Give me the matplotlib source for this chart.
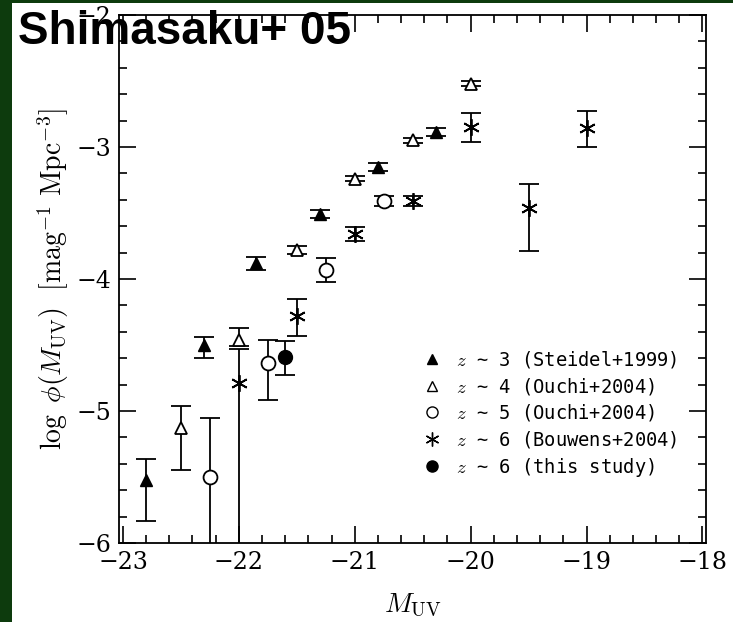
import matplotlib
matplotlib.use("Agg")
import matplotlib.pyplot as plt
from matplotlib.lines import Line2D

plt.rcParams["mathtext.fontset"] = "cm"

# z~3 Steidel+1999 (filled triangles)
z3_m = [-22.8, -22.3, -21.85, -21.3, -20.8, -20.3]
z3_phi = [-5.52, -4.50, -3.88, -3.51, -3.15, -2.89]
z3_lo = [0.31, 0.10, 0.05, 0.03, 0.03, 0.03]
z3_hi = [0.16, 0.06, 0.05, 0.03, 0.03, 0.03]

# z~4 Ouchi+2004 (open triangles)
z4_m = [-22.5, -22.0, -21.5, -21.0, -20.5, -20.0]
z4_phi = [-5.13, -4.46, -3.78, -3.24, -2.95, -2.52]
z4_lo = [0.32, 0.05, 0.03, 0.02, 0.02, 0.02]
z4_hi = [0.17, 0.09, 0.03, 0.02, 0.02, 0.02]

# z~5 Ouchi+2004 (open circles)
z5_m = [-22.25, -21.75, -21.25, -20.75]
z5_phi = [-5.50, -4.64, -3.93, -3.41]
z5_lo = [1.5, 0.28, 0.09, 0.04]
z5_hi = [0.45, 0.18, 0.09, 0.04]

# z~6 Bouwens+2004 (stars)
b6_m = [-22.0, -21.5, -21.0, -20.5, -20.0, -19.5, -19.0]
b6_phi = [-4.79, -4.28, -3.66, -3.41, -2.85, -3.46, -2.86]
b6_lo = [1.5, 0.15, 0.05, 0.04, 0.11, 0.33, 0.14]
b6_hi = [0.26, 0.13, 0.05, 0.04, 0.11, 0.18, 0.13]

# z~6 this study (filled circle)
s6_m = [-21.6]
s6_phi = [-4.59]
s6_lo = [0.14]
s6_hi = [0.12]

serif = "DejaVu Serif"
fig = plt.figure(figsize=(7.33, 6.22), dpi=100, facecolor="#0d3b0d")
bg = fig.add_axes([0.017, 0.0, 0.983, 0.995])
bg.set_facecolor("white")
bg.set_xticks([]); bg.set_yticks([])
for s in bg.spines.values():
    s.set_visible(False)

ax = fig.add_axes([0.163, 0.127, 0.80, 0.849])
kw = dict(ls="none", color="black", ecolor="black", elinewidth=1.3, capsize=7, capthick=1.3)
ax.errorbar(z3_m, z3_phi, yerr=[z3_lo, z3_hi], marker="^", ms=8, mfc="black", **kw)
ax.errorbar(z4_m, z4_phi, yerr=[z4_lo, z4_hi], marker="^", ms=8, mfc="white", mew=1.3, **kw)
ax.errorbar(z5_m, z5_phi, yerr=[z5_lo, z5_hi], marker="o", ms=10, mfc="white", mew=1.3, **kw)
ax.errorbar(b6_m, b6_phi, yerr=[b6_lo, b6_hi], marker=(6, 2, 0), ms=12, mew=1.3, **kw)
ax.errorbar(s6_m, s6_phi, yerr=[s6_lo, s6_hi], marker="o", ms=10, mfc="black", **kw)

ax.set_xlim(-23.03, -17.97)
ax.set_ylim(-6, -2)
ax.set_xticks([-23, -22, -21, -20, -19, -18])
ax.set_yticks([-6, -5, -4, -3, -2])
ax.set_xticklabels(["\u221223", "\u221222", "\u221221", "\u221220", "\u221219", "\u221218"])
ax.set_yticklabels(["\u22126", "\u22125", "\u22124", "\u22123", "\u22122"])
ax.minorticks_on()
ax.tick_params(which="both", direction="in", top=True, right=True, width=1.2)
ax.tick_params(which="major", length=12, labelsize=17, pad=6)
ax.tick_params(which="minor", length=6)
ax.xaxis.set_minor_locator(matplotlib.ticker.MultipleLocator(0.2))
ax.yaxis.set_minor_locator(matplotlib.ticker.MultipleLocator(0.2))
for lab in ax.get_xticklabels() + ax.get_yticklabels():
    lab.set_family(serif)
for s in ax.spines.values():
    s.set_linewidth(1.3)

ax.set_xlabel(r"$M_{\rm UV}$", fontsize=20, labelpad=12)
ax.set_ylabel(r"$\log\ \phi(M_{\rm UV})\ \ [{\rm mag}^{-1}\ {\rm Mpc}^{-3}]$", fontsize=20, labelpad=4)

handles = [
    Line2D([], [], ls="none", marker="^", ms=7, color="black"),
    Line2D([], [], ls="none", marker="^", ms=7, mfc="white", color="black"),
    Line2D([], [], ls="none", marker="o", ms=8, mfc="white", color="black"),
    Line2D([], [], ls="none", marker=(6, 2, 0), ms=10, color="black"),
    Line2D([], [], ls="none", marker="o", ms=8, color="black"),
]
labels = [r"$z$ ~ 3 (Steidel+1999)", r"$z$ ~ 4 (Ouchi+2004)", r"$z$ ~ 5 (Ouchi+2004)",
          r"$z$ ~ 6 (Bouwens+2004)", r"$z$ ~ 6 (this study)"]
ax.legend(handles, labels, loc="lower right", bbox_to_anchor=(0.98, 0.09), frameon=False,
          handletextpad=0.3, labelspacing=0.3, prop={"family": "monospace", "size": 13.5})

fig.text(0.024, 0.93, "Shimasaku+ 05", fontsize=33, fontweight="bold",
         family="Liberation Sans", color="black")

fig.savefig("out.png", dpi=100, facecolor=fig.get_facecolor())
